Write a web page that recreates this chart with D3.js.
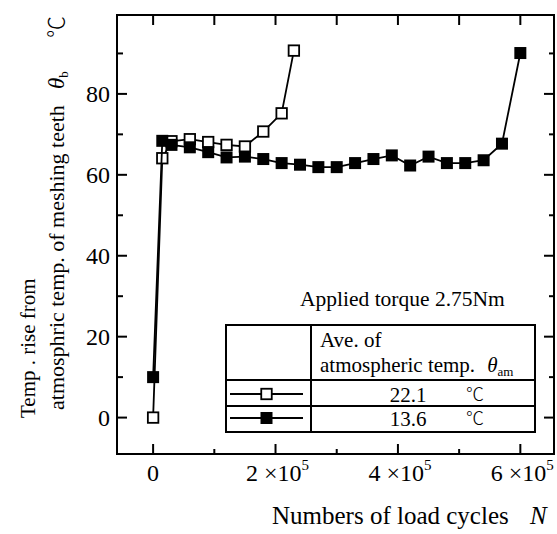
<!DOCTYPE html>
<html>
<head>
<meta charset="utf-8">
<script src="https://cdn.jsdelivr.net/npm/d3@7"></script>
<style>
  html, body { margin: 0; padding: 0; background: #fff; }
  svg { display: block; }
  text { font-family: "Liberation Serif", "Times New Roman", serif; fill: #000; }
  .cjk { font-family: "Noto Sans CJK JP", "Noto Sans CJK SC", sans-serif; font-weight: 300; }
</style>
</head>
<body>
<svg id="chart" width="557" height="534"></svg>
<script>
// ---- data ----
const cyclesOpen = [0, 15000, 30000, 60000, 90000, 120000, 150000, 180000, 210000, 230000];
const tempOpen   = [0, 64.1, 68.3, 68.8, 68.1, 67.4, 67.0, 70.7, 75.2, 90.7];

const cyclesFilled = [0, 15000, 30000, 60000, 90000, 120000, 150000, 180000, 210000, 240000, 270000,
                      300000, 330000, 360000, 390000, 420000, 450000, 480000, 510000, 540000, 570000, 600000];
const tempFilled   = [10, 68.4, 67.4, 66.8, 65.6, 64.3, 64.5, 63.9, 62.9, 62.5, 61.9,
                      61.9, 62.9, 63.9, 64.8, 62.3, 64.5, 62.9, 62.9, 63.6, 67.7, 90.1];

const xMajorTicks = [0, 200000, 400000, 600000];
const xTickLabels = [["0", ""], ["2 \u00D710", "5"], ["4 \u00D710", "5"], ["6 \u00D710", "5"]];
const xMinorTicks = [100000, 300000, 500000];
const yMajorTicks = [0, 20, 40, 60, 80];
const yMinorTicks = [10, 30, 50, 70, 90];

const seriesLabels = ["22.1", "13.6"];
const legendTitle = "Applied torque 2.75Nm";

// ---- layout ----
const svg = d3.select("#chart");
const L = 117, R = 554, T = 15, B = 454;
const x = d3.scaleLinear().domain([-59000, 655000]).range([L, R]);
const y = d3.scaleLinear().domain([-9, 99.5]).range([B, T]);

// ticks (inside, mirrored)
const tickG = svg.append("g").attr("stroke", "#000").attr("stroke-width", 2);
xMajorTicks.forEach(v => {
  tickG.append("line").attr("x1", x(v)).attr("x2", x(v)).attr("y1", B).attr("y2", B - 10);
  tickG.append("line").attr("x1", x(v)).attr("x2", x(v)).attr("y1", T).attr("y2", T + 10);
});
xMinorTicks.forEach(v => {
  tickG.append("line").attr("x1", x(v)).attr("x2", x(v)).attr("y1", B).attr("y2", B - 5);
  tickG.append("line").attr("x1", x(v)).attr("x2", x(v)).attr("y1", T).attr("y2", T + 10);
});
yMajorTicks.forEach(v => {
  tickG.append("line").attr("x1", L).attr("x2", L + 10).attr("y1", y(v)).attr("y2", y(v));
  tickG.append("line").attr("x1", R).attr("x2", R - 10).attr("y1", y(v)).attr("y2", y(v));
});
yMinorTicks.forEach(v => {
  tickG.append("line").attr("x1", L).attr("x2", L + 6).attr("y1", y(v)).attr("y2", y(v));
  tickG.append("line").attr("x1", R).attr("x2", R - 5).attr("y1", y(v)).attr("y2", y(v));
});

// frame
svg.append("rect").attr("x", L).attr("y", T).attr("width", R - L).attr("height", B - T)
  .attr("fill", "none").attr("stroke", "#000").attr("stroke-width", 2);

// tick labels
yMajorTicks.forEach(v => {
  svg.append("text").attr("x", 110).attr("y", y(v) + 8).attr("text-anchor", "end")
    .attr("font-family", "Liberation Serif").attr("font-size", 24).text(v);
});
xMajorTicks.forEach((v, i) => {
  const t = svg.append("text").attr("x", x(v) + (xTickLabels[i][1] ? 2 : 0)).attr("y", 481)
    .attr("text-anchor", "middle").attr("font-family", "Liberation Serif").attr("font-size", 24);
  t.append("tspan").text(xTickLabels[i][0]);
  if (xTickLabels[i][1]) t.append("tspan").attr("dy", -11).attr("font-size", 15).text(xTickLabels[i][1]);
});

// axis titles
const xt = svg.append("text").attr("x", 272).attr("y", 524).attr("font-size", 25);
xt.append("tspan").text("Numbers of load cycles");
xt.append("tspan").attr("x", 530).attr("font-style", "italic").text("N");

svg.append("text").attr("transform", "translate(35,418) rotate(-90)").attr("font-size", 21)
  .text("Temp . rise from");
svg.append("text").attr("transform", "translate(64,410) rotate(-90)").attr("font-size", 22)
  .text("atmosphric temp. of meshing teeth");
const th = svg.append("text").attr("transform", "translate(64,89) rotate(-90)").attr("font-size", 23);
th.append("tspan").attr("font-style", "italic").text("\u03B8");
th.append("tspan").attr("font-size", 13).attr("dy", 4).text("b");
svg.append("text").attr("class", "cjk").attr("transform", "translate(64,38) rotate(-90)")
  .attr("font-size", 22).text("\u2103");

// series
const line = d3.line().x(d => x(d[0])).y(d => y(d[1]));
const openData = cyclesOpen.map((c, i) => [c, tempOpen[i]]);
const filledData = cyclesFilled.map((c, i) => [c, tempFilled[i]]);

function drawSeries(data, filled) {
  svg.append("path").datum(data).attr("d", line).attr("fill", "none")
    .attr("stroke", "#000").attr("stroke-width", 1.8);
  const s = filled ? 12 : 10.5;
  svg.append("g").selectAll("rect").data(data).join("rect")
    .attr("x", d => x(d[0]) - s / 2).attr("y", d => y(d[1]) - s / 2)
    .attr("width", s).attr("height", s)
    .attr("fill", filled ? "#000" : "#fff")
    .attr("stroke", "#000").attr("stroke-width", filled ? 0 : 1.8);
}
drawSeries(openData, false);
drawSeries(filledData, true);

// legend
svg.append("text").attr("x", 300).attr("y", 306).attr("font-size", 21.5).text(legendTitle);
const lg = svg.append("g");
const tL = 226, tR = 535, tC = 311, tTop = 325, tH1 = 380, tH2 = 406, tBot = 432;
lg.append("rect").attr("x", tL).attr("y", tTop).attr("width", tR - tL).attr("height", tBot - tTop)
  .attr("fill", "#fff").attr("stroke", "#000").attr("stroke-width", 2);
lg.append("line").attr("x1", tC).attr("x2", tC).attr("y1", tTop).attr("y2", tBot)
  .attr("stroke", "#000").attr("stroke-width", 2);
[tH1, tH2].forEach(yy => lg.append("line").attr("x1", tL).attr("x2", tR).attr("y1", yy).attr("y2", yy)
  .attr("stroke", "#000").attr("stroke-width", 2));
lg.append("text").attr("x", 320).attr("y", 347).attr("font-size", 21).text("Ave. of");
const h2 = lg.append("text").attr("x", 320).attr("y", 372).attr("font-size", 21);
h2.append("tspan").text("atmospheric temp.");
h2.append("tspan").attr("dx", 12).attr("font-style", "italic").text("\u03B8");
h2.append("tspan").attr("font-size", 13).attr("dy", 4).text("am");

[[394, false], [418, true]].forEach(([yy, filled], i) => {
  lg.append("line").attr("x1", 230).attr("x2", 303).attr("y1", yy).attr("y2", yy)
    .attr("stroke", "#000").attr("stroke-width", 1.8);
  const s = filled ? 12 : 10.5;
  lg.append("rect").attr("x", 266.5 - s / 2).attr("y", yy - s / 2).attr("width", s).attr("height", s)
    .attr("fill", filled ? "#000" : "#fff").attr("stroke", "#000").attr("stroke-width", filled ? 0 : 1.8);
  lg.append("text").attr("x", 408).attr("y", yy + 8).attr("text-anchor", "middle").attr("font-size", 21)
    .text(seriesLabels[i]);
  lg.append("text").attr("class", "cjk").attr("x", 466).attr("y", yy + 7).attr("font-size", 18).text("\u2103");
});
</script>
</body>
</html>
